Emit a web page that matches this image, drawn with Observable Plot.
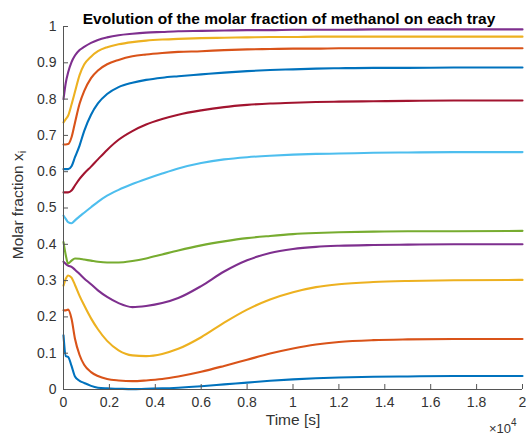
<!DOCTYPE html>
<html>
<head>
<meta charset="utf-8">
<script src="https://cdn.jsdelivr.net/npm/d3@7"></script>
<script src="https://cdn.jsdelivr.net/npm/@observablehq/plot@0.6"></script>
<style>
  body { margin: 0; background: #fff; }
  svg { display: block; }
</style>
</head>
<body>
<div id="chart"></div>
<script>
// ---- Data (time in seconds; molar fraction of methanol per tray) ----
const timeS = [0, 100, 200, 350, 500, 700, 900, 1200, 1500, 1900, 2400, 3000, 3600, 4300, 5000, 6000, 7000, 8000, 9000, 10000, 11000, 12000, 13500, 15000, 17000, 20000];

const tray1  = [0.149,0.092,0.090,0.065,0.036,0.024,0.018,0.010,0.005,0.003,0.002,0.001,0.002,0.003,0.005,0.009,0.014,0.019,0.024,0.028,0.031,0.033,0.035,0.036,0.037,0.037];
const tray2  = [0.218,0.218,0.220,0.195,0.140,0.095,0.068,0.048,0.037,0.029,0.025,0.023,0.025,0.029,0.036,0.049,0.065,0.082,0.099,0.113,0.124,0.131,0.136,0.138,0.139,0.139];
const tray3  = [0.286,0.305,0.314,0.308,0.288,0.258,0.232,0.196,0.166,0.134,0.108,0.094,0.092,0.098,0.112,0.144,0.184,0.220,0.248,0.268,0.282,0.290,0.296,0.299,0.301,0.302];
const tray4  = [0.352,0.346,0.341,0.338,0.330,0.318,0.306,0.290,0.273,0.255,0.238,0.227,0.230,0.238,0.252,0.285,0.325,0.356,0.376,0.387,0.393,0.396,0.398,0.399,0.400,0.400];
const tray5  = [0.406,0.370,0.347,0.355,0.361,0.360,0.358,0.355,0.352,0.350,0.350,0.354,0.361,0.372,0.383,0.397,0.408,0.417,0.423,0.428,0.431,0.433,0.435,0.436,0.436,0.437];
const tray6  = [0.479,0.470,0.461,0.458,0.466,0.477,0.487,0.502,0.517,0.534,0.550,0.566,0.580,0.595,0.609,0.624,0.634,0.640,0.644,0.647,0.649,0.650,0.652,0.653,0.654,0.654];
const tray7  = [0.543,0.543,0.543,0.548,0.562,0.580,0.595,0.614,0.634,0.660,0.688,0.712,0.730,0.745,0.757,0.769,0.778,0.784,0.788,0.790,0.792,0.793,0.794,0.795,0.796,0.796];
const tray8  = [0.607,0.607,0.607,0.615,0.640,0.672,0.712,0.757,0.788,0.814,0.833,0.845,0.853,0.859,0.863,0.868,0.873,0.877,0.880,0.882,0.884,0.885,0.886,0.886,0.887,0.887];
const tray9  = [0.675,0.675,0.676,0.695,0.735,0.787,0.822,0.858,0.879,0.896,0.908,0.918,0.923,0.927,0.930,0.932,0.935,0.937,0.938,0.939,0.939,0.940,0.940,0.940,0.940,0.940];
const tray10 = [0.736,0.745,0.754,0.785,0.820,0.866,0.895,0.917,0.932,0.943,0.951,0.957,0.961,0.964,0.966,0.968,0.969,0.970,0.971,0.971,0.972,0.972,0.972,0.972,0.972,0.972];
const tray11 = [0.800,0.845,0.873,0.902,0.920,0.935,0.944,0.955,0.963,0.970,0.976,0.980,0.983,0.985,0.987,0.988,0.989,0.990,0.990,0.991,0.991,0.991,0.992,0.992,0.992,0.992];

const trayNames = ["Tray 1","Tray 2","Tray 3","Tray 4","Tray 5","Tray 6","Tray 7","Tray 8","Tray 9","Tray 10","Tray 11"];
const traySeries = [tray1, tray2, tray3, tray4, tray5, tray6, tray7, tray8, tray9, tray10, tray11];
const trayColors = ["#0072BD","#D95319","#EDB120","#7E2F8E","#77AC30","#4DBEEE","#A2142F","#0072BD","#D95319","#EDB120","#7E2F8E"];

const xTicks = [0, 2000, 4000, 6000, 8000, 10000, 12000, 14000, 16000, 18000, 20000];
const xTickLabels = ["0","0.2","0.4","0.6","0.8","1","1.2","1.4","1.6","1.8","2"];
const yTicks = [0, 0.1, 0.2, 0.3, 0.4, 0.5, 0.6, 0.7, 0.8, 0.9, 1];
const yTickLabels = ["0","0.1","0.2","0.3","0.4","0.5","0.6","0.7","0.8","0.9","1"];

const titleText = "Evolution of the molar fraction of methanol on each tray";
const xLabel = "Time [s]";
const yLabelMain = "Molar fraction x";
const yLabelSub = "i";
const xExponentBase = "\u00d710";
const xExponent = "4";

// ---- Build table ----
const rows = [];
traySeries.forEach((vals, k) => {
  vals.forEach((v, i) => rows.push({tray: trayNames[k], t: timeS[i], v}));
});

const axisColor = "#262626";

const plot = Plot.plot({
  width: 526,
  height: 439,
  marginTop: 26,
  marginBottom: 50,
  marginLeft: 63,
  marginRight: 4,
  style: {fontFamily: "'Liberation Sans', Arial, Helvetica, sans-serif", fontSize: "14px", color: axisColor, background: "#fff", overflow: "visible"},
  x: {domain: [0, 20000]},
  y: {domain: [0, 1]},
  color: {domain: trayNames, range: trayColors},
  marks: [
    Plot.line(rows, {x: "t", y: "v", z: "tray", stroke: "tray", strokeWidth: 2.1, curve: "monotone-x"}),
    Plot.ruleX([0], {stroke: "#555", strokeWidth: 1}),
    Plot.ruleY([0], {stroke: "#555", strokeWidth: 1}),
    Plot.axisX(xTicks, {anchor: "bottom", tickSize: -5, tickPadding: 13, stroke: "#555",
      tickFormat: (d) => xTickLabels[xTicks.indexOf(d)], label: null, fontSize: 14, fill: "#333"}),
    Plot.axisY(yTicks, {anchor: "left", tickSize: -5, tickPadding: 12, stroke: "#555",
      tickFormat: (d) => yTickLabels[yTicks.indexOf(d)], label: null, fontSize: 14, fill: "#333"}),
    Plot.text([titleText], {text: d => d, frameAnchor: "top", dy: -14, dx: -4, fontWeight: "bold", fontSize: 15.5, fill: "#000"}),
    Plot.text([xLabel], {text: d => d, frameAnchor: "bottom", dy: 35, fontSize: 15.5, fill: "#333"})
  ]
});

const svg = d3.select(plot);
// y label with subscript
const yl = svg.append("text")
  .attr("transform", "translate(19,205) rotate(-90)")
  .attr("text-anchor", "middle")
  .attr("dominant-baseline", "middle")
  .attr("font-size", 15.5)
  .attr("fill", "#333");
yl.append("tspan").text(yLabelMain);
yl.append("tspan").attr("font-size", 11).attr("dy", 4).text(yLabelSub);

// x exponent
const xe = svg.append("text")
  .attr("x", 489).attr("y", 433)
  .attr("text-anchor", "start")
  .attr("font-size", 13)
  .attr("fill", "#333");
xe.append("tspan").text(xExponentBase);
xe.append("tspan").attr("font-size", 10).attr("dy", -7).text(xExponent);

document.getElementById("chart").appendChild(plot);
</script>
</body>
</html>
